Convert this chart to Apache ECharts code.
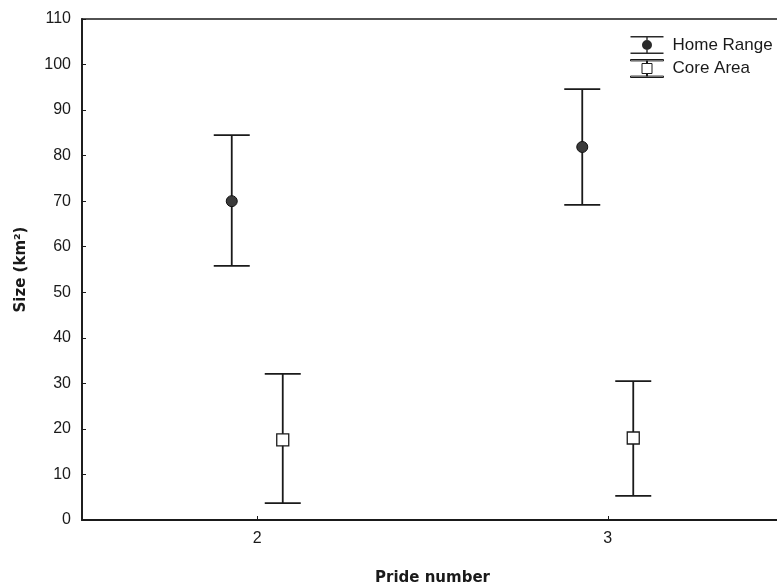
<!DOCTYPE html>
<html><head><meta charset="utf-8">
<script src="https://cdn.jsdelivr.net/npm/echarts@6/dist/echarts.min.js"></script>
<style>html,body{margin:0;padding:0;background:#fff}#c{width:777px;height:588px}</style>
</head><body><div id="c"></div>
<script>
const categories = ['2', '3'];
const homeMean = [70.0, 81.9];
const homeLow = [55.8, 69.2];
const homeHigh = [84.5, 94.6];
const coreMean = [17.6, 18.0];
const coreLow = [3.7, 5.3];
const coreHigh = [32.1, 30.5];
const yTicks = [0, 10, 20, 30, 40, 50, 60, 70, 80, 90, 100, 110];

const FONT = 'Liberation Sans, Arial, sans-serif';
const BFONT = 'DejaVu Sans, sans-serif';
const chart = echarts.init(document.getElementById('c'), null, {renderer: 'canvas'});

function makeRender(offset, kind) {
  return function (params, api) {
    const i = api.value(0);
    const pm = api.coord([i, api.value(1)]);
    const pl = api.coord([i, api.value(2)]);
    const ph = api.coord([i, api.value(3)]);
    const x = pm[0] + offset;
    const cap = 18;
    const ls = {stroke: '#1a1a1a', lineWidth: 1.8};
    const children = [
      {type: 'line', shape: {x1: x, y1: ph[1], x2: x, y2: pl[1]}, style: ls},
      {type: 'line', shape: {x1: x - cap, y1: ph[1], x2: x + cap, y2: ph[1]}, style: ls},
      {type: 'line', shape: {x1: x - cap, y1: pl[1], x2: x + cap, y2: pl[1]}, style: ls}
    ];
    if (kind === 'circle') {
      children.push({type: 'circle', shape: {cx: x, cy: pm[1], r: 5.5}, style: {fill: '#3a3a3a', stroke: '#111', lineWidth: 1}});
    } else {
      children.push({type: 'rect', shape: {x: x - 6, y: pm[1] - 6, width: 12, height: 12}, style: {fill: '#fff', stroke: '#1a1a1a', lineWidth: 1.3}});
    }
    return {type: 'group', children: children};
  };
}

const homeData = categories.map((c, i) => [i, homeMean[i], homeLow[i], homeHigh[i]]);
const coreData = categories.map((c, i) => [i, coreMean[i], coreLow[i], coreHigh[i]]);

const homeIcon = 'path://M0 0H33V1.6H0Z M0 16.4H33V18H0Z M15.8 0H17.2V4H15.8Z M15.8 14H17.2V18H15.8Z M11.5 9A5 5 0 1 1 21.5 9A5 5 0 1 1 11.5 9Z';
const coreIcon = 'path://M0 0H33V1.4H0Z M0 16.6H33V18H0Z M16 1.4H17V4H16Z M16 14H17V16.6H16Z M11.5 4H21.5V14H11.5Z';

chart.setOption({
  backgroundColor: '#fff',
  animation: false,
  grid: {left: 82, width: 701, top: 19, height: 501, outerBoundsMode: 'none', containLabel: false,
    show: true, borderColor: '#1a1a1a', borderWidth: 1.5, backgroundColor: 'transparent'},
  legend: {
    orient: 'vertical', left: 630, top: 36, padding: 0, itemGap: 5, itemWidth: 33, itemHeight: 18,
    textStyle: {fontFamily: FONT, fontSize: 17, color: '#1a1a1a', padding: [0, 0, 0, 4]},
    data: [
      {name: 'Home Range', icon: homeIcon, itemStyle: {color: '#2a2a2a', borderWidth: 0}},
      {name: 'Core Area', icon: coreIcon, itemStyle: {color: '#fff', borderColor: '#1a1a1a', borderWidth: 1}}
    ]
  },
  xAxis: {
    type: 'category', data: categories, boundaryGap: true,
    name: 'Pride number', nameLocation: 'middle', nameGap: 51,
    nameTextStyle: {fontFamily: BFONT, fontSize: 15, fontWeight: 'bold', color: '#1a1a1a'},
    axisLine: {lineStyle: {color: '#1a1a1a', width: 1.8}},
    axisTick: {show: true, alignWithLabel: true, inside: true, length: 4, lineStyle: {color: '#1a1a1a'}},
    axisLabel: {fontFamily: FONT, fontSize: 16, color: '#1a1a1a', margin: 11},
    splitLine: {show: false}
  },
  yAxis: {
    type: 'value', min: 0, max: 110, interval: 10,
    name: 'Size (km²)', nameLocation: 'middle', nameGap: 53, nameRotate: 90,
    nameTextStyle: {fontFamily: BFONT, fontSize: 15, fontWeight: 'bold', color: '#1a1a1a'},
    axisLine: {show: true, lineStyle: {color: '#1a1a1a', width: 1.8}},
    axisTick: {show: true, inside: true, length: 4, lineStyle: {color: '#1a1a1a'}},
    axisLabel: {fontFamily: FONT, fontSize: 16, color: '#1a1a1a', margin: 11,
      formatter: v => (yTicks.indexOf(v) >= 0 ? String(v) : '')},
    splitLine: {show: false}
  },
  series: [
    {name: 'Home Range', type: 'custom', renderItem: makeRender(-25.5, 'circle'), data: homeData,
      encode: {x: 0, y: [1, 2, 3]}, itemStyle: {color: '#2a2a2a'}, z: 3},
    {name: 'Core Area', type: 'custom', renderItem: makeRender(25.5, 'square'), data: coreData,
      encode: {x: 0, y: [1, 2, 3]}, itemStyle: {color: '#fff'}, z: 3}
  ]
});
</script></body></html>
